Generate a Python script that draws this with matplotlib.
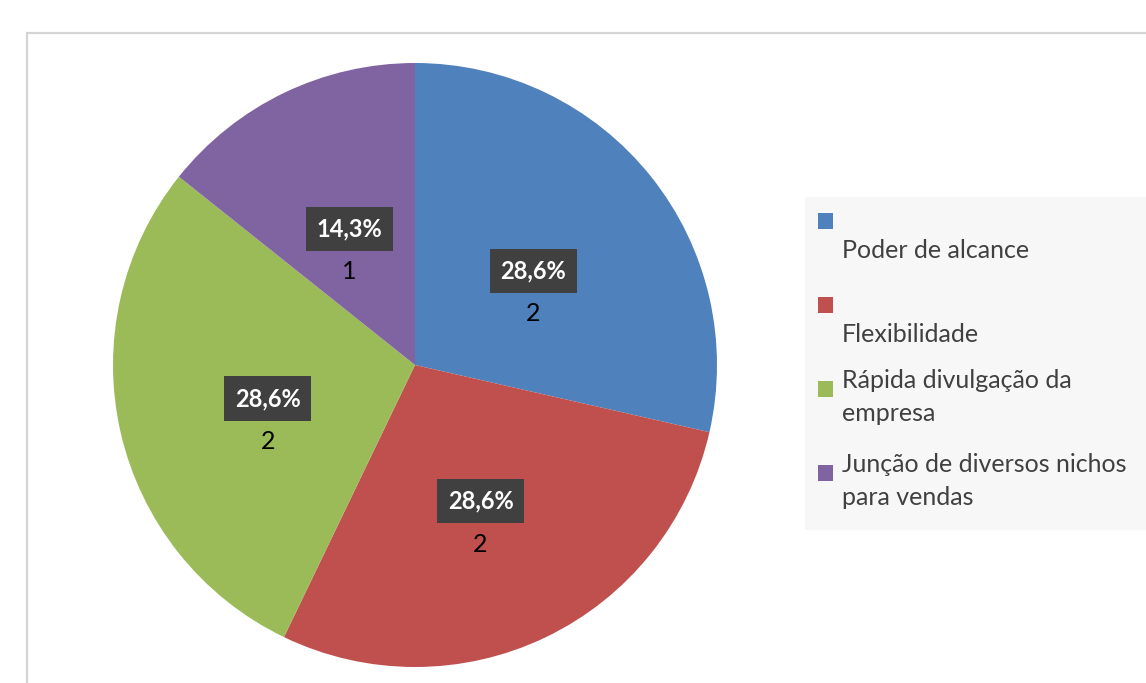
import numpy as np
import matplotlib.pyplot as plt
from matplotlib.patches import Rectangle

plt.rcParams['font.family'] = ['Lato', 'DejaVu Sans']

categorias = ['\nPoder de alcance', '\nFlexibilidade', 'Rápida divulgação da\nempresa',
              'Junção de diversos nichos\npara vendas']
valores = [2, 2, 2, 1]
percentuais = ['28,6%', '28,6%', '28,6%', '14,3%']
cores = ['#4f81bd', '#c0504d', '#9bbb59', '#8064a2']

W, H = 1146, 683
fig = plt.figure(figsize=(W / 100, H / 100), dpi=100)

# moldura do grafico
fig.patches.append(Rectangle((27 / W, -0.1), 1.2, (H - 33) / H + 0.1, transform=fig.transFigure,
                             fill=False, edgecolor='#d4d4d4', linewidth=1.6))

# pizza
cx, cy, r = 415, 365, 302
ax = fig.add_axes([(cx - r) / W, (H - cy - r) / H, 2 * r / W, 2 * r / H])
cunhas, _ = ax.pie(valores, colors=cores, startangle=90, counterclock=False, radius=1,
                   wedgeprops=dict(linewidth=0))
ax.set_xlim(-1, 1)
ax.set_ylim(-1, 1)
ax.axis('off')

total = sum(valores)
ang = 90
for i, v in enumerate(valores):
    meio = np.deg2rad(ang - v / total * 180)
    ang -= v / total * 360
    x, y = 0.5 * np.cos(meio), 0.5 * np.sin(meio)
    ax.text(x, y, percentuais[i], ha='center', va='center', color='white', fontsize=17,
            fontweight='bold',
            bbox=dict(boxstyle='square,pad=0.45', facecolor='#404040', edgecolor='none'))
    ax.text(x, y - 43 / r, str(valores[i]), ha='center', va='center', color='black', fontsize=18)

# legenda
fig.patches.append(Rectangle((805 / W, (H - 530) / H), 400 / W, 333 / H, transform=fig.transFigure,
                             facecolor='#f7f7f7', edgecolor='none'))
for i, lab in enumerate(categorias):
    ym = 221 + i * 84
    fig.patches.append(Rectangle((818 / W, (H - ym - 8) / H), 15 / W, 16 / H,
                                 transform=fig.transFigure, facecolor=cores[i], edgecolor='none'))
    dy = 13 if i < 2 else 8
    fig.text(842 / W, (H - ym - dy) / H, lab, ha='left', va='center', fontsize=18,
             color='#404040', linespacing=1.55)

fig.savefig('out.png', dpi=100)
